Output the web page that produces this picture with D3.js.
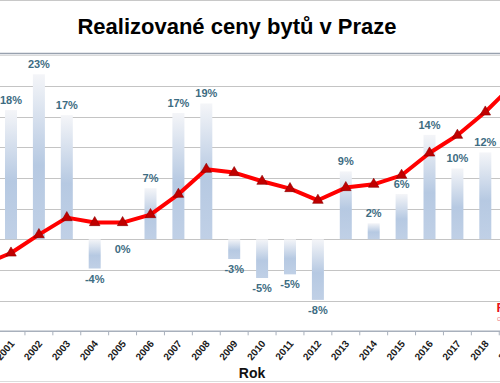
<!DOCTYPE html>
<html><head><meta charset="utf-8">
<script src="https://cdn.jsdelivr.net/npm/d3@7"></script>
<style>
html,body{margin:0;padding:0;background:#fff;overflow:hidden}
svg{display:block;font-family:"Liberation Sans",Arial,Helvetica,sans-serif}
</style></head>
<body>
<svg id="c" width="500" height="383"></svg>
<script>
// ---- data ----
const years = [2000,2001,2002,2003,2004,2005,2006,2007,2008,2009,2010,2011,2012,2013,2014,2015,2016,2017,2018,2019];
const prices = [21650,25530,31530,37070,35450,35450,38050,44670,52830,51750,48920,46530,42720,46860,47940,50870,58140,63920,71510,80500];
// year-on-year change in % (bars); null = not shown
const changes = [null,17.7,22.6,17.0,-4.0,0,7.0,17.3,18.6,-2.7,-5.3,-4.8,-8.3,9.3,2.2,6.2,14.3,9.7,11.9,12.6];
const priceTicks = [10000,20000,30000,40000,50000,60000,70000,80000,90000];
const title = "Realizované ceny bytů v Praze";
const xTitle = "Rok";

const svg = d3.select("#c");
const defs = svg.append("defs");
const g = defs.append("linearGradient").attr("id","barg").attr("x1",0).attr("y1",0).attr("x2",0).attr("y2",1);
g.append("stop").attr("offset","0%").attr("stop-color","#f4f5f8");
g.append("stop").attr("offset","55%").attr("stop-color","#b6c9e2");
g.append("stop").attr("offset","100%").attr("stop-color","#c0d0e6");

const step = 27.9;
const x = d3.scalePoint().domain(years).range([11-step, 11+18*step]);
const y = d3.scaleLinear().domain([0,90000]).range([331.3,55.3]);
const y2 = d3.scaleLinear().domain([-12.6,25.2]).range([331.3,55.3]);

// frame lines
svg.append("line").attr("x1",0).attr("x2",500).attr("y1",0.5).attr("y2",0.5).attr("stroke","#c8c8c8");
svg.append("line").attr("x1",0).attr("x2",500).attr("y1",381.5).attr("y2",381.5).attr("stroke","#dcdcdc");

// title
svg.append("text").attr("x",237).attr("y",33.5).attr("text-anchor","middle")
  .attr("font-size",22).attr("font-weight","bold").attr("fill","#000").text(title);

// top plot border
svg.append("line").attr("x1",0).attr("x2",500).attr("y1",53.5).attr("y2",53.5).attr("stroke","#98a1ae").attr("stroke-width",1.5);

// gridlines
svg.append("g").selectAll("line").data(priceTicks).join("line")
  .attr("x1",0).attr("x2",500)
  .attr("y1",d=>Math.round(y(d))+0.5).attr("y2",d=>Math.round(y(d))+0.5)
  .attr("stroke",d=>d===90000?"#dadada":"#c4c4c4").attr("stroke-width",1);

// bars
const barData = years.map((yr,i)=>({yr, v:changes[i]})).filter(d=>d.v!==null);
const bw = 12;
svg.append("g").selectAll("rect").data(barData).join("rect")
  .attr("x",d=>x(d.yr)-bw/2).attr("width",bw)
  .attr("y",d=>Math.min(y2(d.v),y2(0)))
  .attr("height",d=>Math.abs(y2(d.v)-y2(0)))
  .attr("fill","url(#barg)");

// bar labels
svg.append("g").selectAll("text").data(barData).join("text")
  .attr("x",d=>x(d.yr)).attr("text-anchor","middle")
  .attr("y",d=>d.v>0 ? y2(d.v)-6 : Math.max(y2(d.v),y2(0))+14)
  .attr("font-size",11).attr("font-weight","bold").attr("fill","#3d6c82")
  .text(d=>Math.round(d.v)+"%");

// x axis
const axisY = 331.3;
svg.append("line").attr("x1",0).attr("x2",500).attr("y1",axisY).attr("y2",axisY).attr("stroke","#a8b0bc").attr("stroke-width",1.5);
const tickPos = years.slice(0,-1).map(yr=>x(yr)+step/2);
svg.append("g").selectAll("line").data(tickPos).join("line")
  .attr("x1",d=>d).attr("x2",d=>d).attr("y1",axisY).attr("y2",axisY+4)
  .attr("stroke","#a8b0bc").attr("stroke-width",1);
svg.append("g").selectAll("text").data(years).join("text")
  .attr("transform",d=>`translate(${x(d)+4},${344}) rotate(-50)`)
  .attr("text-anchor","end").attr("font-size",10).attr("font-weight","bold").attr("fill","#1a1a1a")
  .text(d=>d);
svg.append("text").attr("x",252).attr("y",378).attr("text-anchor","middle")
  .attr("font-size",14).attr("font-weight","bold").attr("fill","#111").text(xTitle);

// line
const pts = years.map((yr,i)=>({yr, p:prices[i]}));
svg.append("path").datum(pts)
  .attr("d",d3.line().x(d=>x(d.yr)).y(d=>y(d.p)))
  .attr("fill","none").attr("stroke","#ff0000").attr("stroke-width",4).attr("stroke-linejoin","round");
svg.append("g").selectAll("path").data(pts).join("path")
  .attr("transform",d=>`translate(${x(d.yr)},${y(d.p)})`)
  .attr("d",d3.symbol(d3.symbolTriangle,48))
  .attr("fill","#c00000").attr("stroke","#8a0000").attr("stroke-width",0.6);

// cropped source mark bottom-right
svg.append("text").attr("x",496.5).attr("y",312).attr("font-size",13).attr("font-weight","bold").attr("fill","#e8141c").text("RE");
svg.append("text").attr("x",497).attr("y",320.5).attr("font-size",7).attr("fill","#f08a8a").text("ce");
</script>
</body></html>
